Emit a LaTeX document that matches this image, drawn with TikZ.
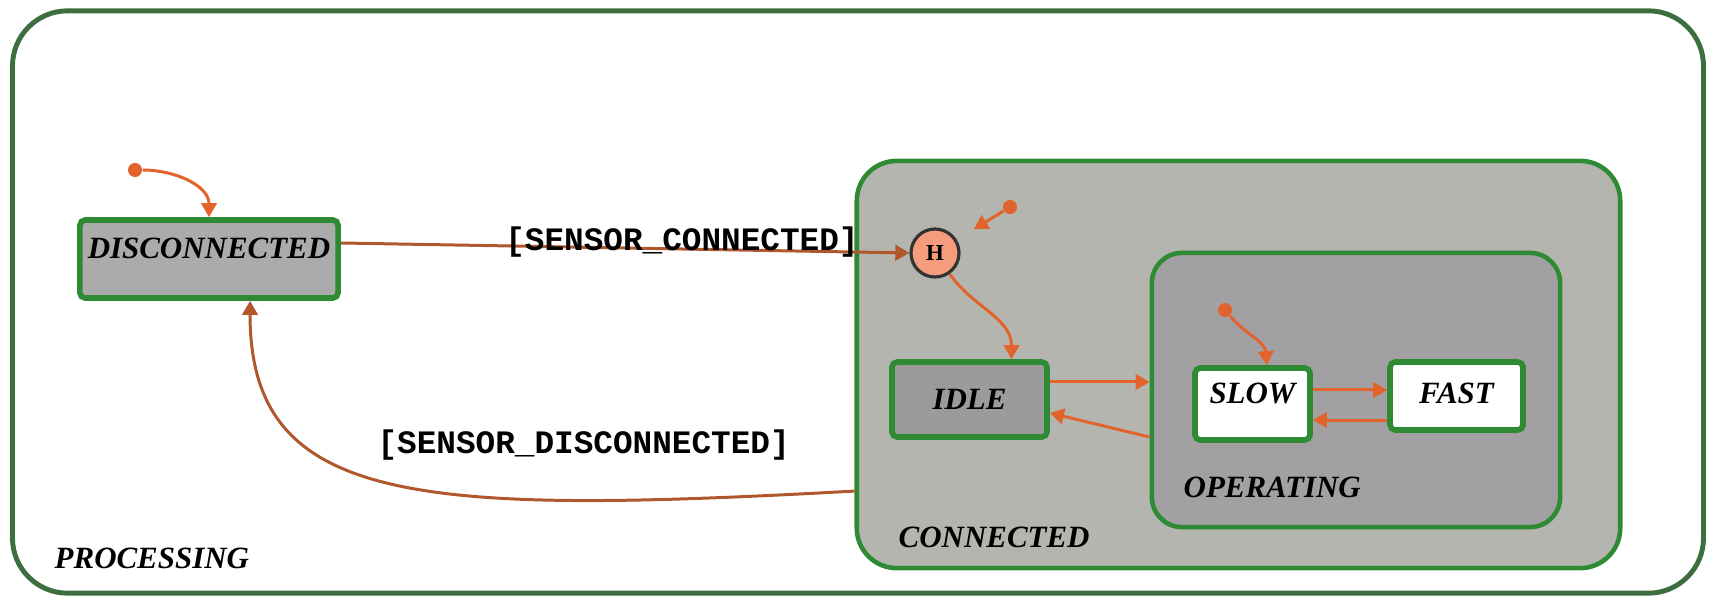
\documentclass[tikz,border=0pt]{standalone}
\usepackage{fontspec}
\setmainfont{Liberation Serif}
\setmonofont{Liberation Mono}
\usepackage{tikz}
\usetikzlibrary{arrows.meta, positioning}
\definecolor{framegreen}{HTML}{3D6E3F}
\definecolor{stategreen}{HTML}{2F8A34}
\definecolor{transorange}{HTML}{E2632B}
\definecolor{guardbrown}{HTML}{B0582C}
\definecolor{connfill}{HTML}{B3B5AE}
\definecolor{opfill}{HTML}{A3A0A4}
\definecolor{discfill}{HTML}{ABABAB}
\definecolor{idlefill}{HTML}{9B9B9B}
\definecolor{histfill}{HTML}{F49C7B}

\begin{document}
\begin{tikzpicture}[
    x=0.01cm, y=-0.01cm,
    every node/.style={font=\fontsize{8.8pt}{10pt}\selectfont\bfseries\itshape},
    region/.style={
        rectangle,
        draw=stategreen,
        line width=1.3pt,
        inner sep=0pt
    },
    state/.style={
        rectangle,
        rounded corners=1.5pt,
        draw=stategreen,
        line width=1.6pt,
        inner sep=0pt
    },
    regionlabel/.style={anchor=west, inner sep=0pt},
    guard/.style={font=\fontsize{9.3pt}{10pt}\selectfont\ttfamily\bfseries, text=black, inner sep=0pt},
    initdot/.style={circle, fill=transorange, inner sep=0pt, minimum size=0.14cm},
    arrow/.style={-{Triangle[length=4pt,width=4.4pt]}, line width=0.85pt, color=transorange}
]

\useasboundingbox (0,0) rectangle (1711,597);

% REGIONS
\node[region, draw=framegreen, line width=1.4pt, rounded corners=0.55cm,
      minimum width=16.9cm, minimum height=5.82cm] (processing) at (858,302) {};
\node[region, fill=connfill, rounded corners=0.4cm,
      minimum width=7.63cm, minimum height=4.07cm] (connected) at (1238.5,364.5) {};
\node[region, fill=opfill, rounded corners=0.3cm,
      minimum width=4.08cm, minimum height=2.74cm] (operating) at (1356,390) {};

\node[regionlabel] (processinglbl) at (54,558) {PROCESSING};
\node[regionlabel] (connectedlbl) at (898,537) {CONNECTED};
\node[regionlabel] (operatinglbl) at (1183,487) {OPERATING};

% STATES
\node[state, fill=discfill, minimum width=2.58cm, minimum height=0.78cm, text depth=0.22cm] (disconnected) at (209,259) {DISCONNECTED};
\node[state, fill=idlefill, minimum width=1.55cm, minimum height=0.75cm] (idle) at (969.5,399.5) {IDLE};
\node[state, fill=white, minimum width=1.15cm, minimum height=0.72cm, text depth=0.22cm] (slow) at (1252.5,404) {SLOW};
\node[state, fill=white, minimum width=1.33cm, minimum height=0.68cm, text depth=0.06cm] (fast) at (1456.5,396) {FAST};
\node[circle, draw=black!80, fill=histfill, line width=0.9pt, minimum size=0.48cm, inner sep=0pt,
      font=\fontsize{6.5pt}{7pt}\selectfont\bfseries] (hist) at (935,253) {H};

\node[initdot] (init1) at (135,170) {};
\node[initdot] (init2) at (1010,207) {};
\node[initdot] (init3) at (1225,310) {};

% ARROWS
\draw[arrow] (init1) to[out=0,in=90] (disconnected.north);
\draw[arrow, color=guardbrown] ([yshift=0.16cm]disconnected.east) -- node[guard, pos=0.6, yshift=0.07cm] {[SENSOR\_CONNECTED]} (hist.west);
\draw[arrow, shorten >=0.2cm] (init2) -- (hist);
\draw[arrow] (hist) to[out=-55,in=90] ([xshift=0.42cm]idle.north);
\draw[arrow] ([yshift=0.175cm]idle.east) -- ([yshift=0.175cm]idle.east -| operating.west);
\draw[arrow] ([yshift=-0.47cm]operating.west) -- ([yshift=-0.135cm]idle.east);
\draw[arrow] (init3) to[out=-50,in=95] ([xshift=0.145cm]slow.north);
\draw[arrow] ([yshift=0.14cm]slow.east) -- ([yshift=0.14cm]slow.east -| fast.west);
\draw[arrow] ([yshift=-0.24cm]fast.west) -- ([yshift=-0.24cm]fast.west -| slow.east);
\draw[arrow, color=guardbrown] ([yshift=-1.265cm]connected.west) .. controls +(-437,24) and +(0,205) .. ([xshift=0.41cm]disconnected.south)
    node[guard, pos=0.25, above=0.38cm, xshift=0.08cm] {[SENSOR\_DISCONNECTED]};

\end{tikzpicture}
\end{document}
